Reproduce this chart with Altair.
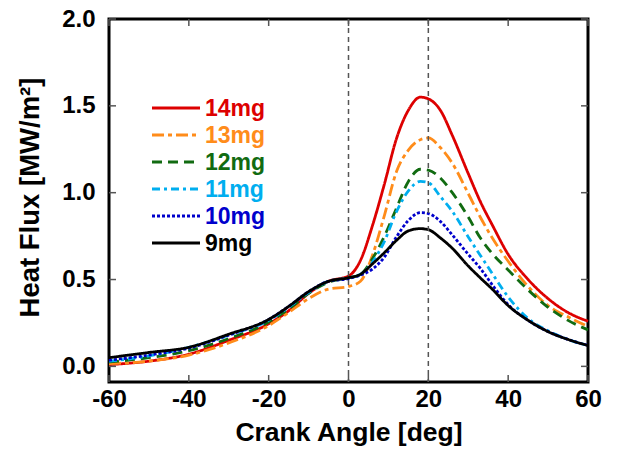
import altair as alt
import pandas as pd

angles = [-60, -50, -40, -30, -20, -15, -10, -5, 0, 3, 6, 9, 12, 15, 18, 20, 23, 26, 30, 33, 36, 40, 45, 50, 55, 60]

flux_14 = [0.01, 0.03, 0.07, 0.15, 0.245, 0.32, 0.42, 0.49, 0.52, 0.61, 0.81, 1.05, 1.31, 1.475, 1.55, 1.54, 1.475, 1.33, 1.11, 0.95, 0.815, 0.645, 0.50, 0.39, 0.31, 0.26]
flux_13 = [0.015, 0.03, 0.065, 0.135, 0.235, 0.31, 0.39, 0.445, 0.46, 0.49, 0.64, 0.87, 1.12, 1.245, 1.305, 1.315, 1.26, 1.17, 0.995, 0.86, 0.74, 0.605, 0.46, 0.35, 0.285, 0.23]
flux_12 = [0.025, 0.05, 0.09, 0.16, 0.255, 0.33, 0.42, 0.485, 0.51, 0.53, 0.62, 0.75, 0.91, 1.065, 1.135, 1.13, 1.085, 1.0, 0.86, 0.74, 0.65, 0.555, 0.44, 0.34, 0.265, 0.21]
flux_11 = [0.03, 0.06, 0.11, 0.18, 0.265, 0.34, 0.425, 0.49, 0.51, 0.53, 0.60, 0.72, 0.89, 1.01, 1.065, 1.058, 0.978, 0.893, 0.745, 0.64, 0.535, 0.40, 0.275, 0.205, 0.155, 0.12]
flux_10 = [0.035, 0.065, 0.105, 0.18, 0.27, 0.345, 0.43, 0.49, 0.505, 0.525, 0.56, 0.63, 0.745, 0.84, 0.885, 0.88, 0.835, 0.757, 0.645, 0.565, 0.47, 0.355, 0.265, 0.2, 0.155, 0.12]
flux_9 = [0.05, 0.08, 0.11, 0.185, 0.27, 0.345, 0.43, 0.49, 0.51, 0.53, 0.59, 0.655, 0.725, 0.78, 0.793, 0.787, 0.74, 0.68, 0.578, 0.51, 0.445, 0.35, 0.265, 0.2, 0.155, 0.12]

series = ["14mg", "13mg", "12mg", "11mg", "10mg", "9mg"]
values = [flux_14, flux_13, flux_12, flux_11, flux_10, flux_9]
colors = ["#dd0000", "#ff8c1a", "#116b11", "#00aeef", "#0000cc", "#000000"]
dashes = [[1, 0], [12, 4, 4, 4], [10, 6], [8, 4, 3, 4], [3, 2], [1, 0]]

x_ticks = [-60, -40, -20, 0, 20, 40, 60]
y_ticks = [0.0, 0.5, 1.0, 1.5, 2.0]
ref_angles = [0, 20]

rows = []
for name, vals in zip(series, values):
    for a, v in zip(angles, vals):
        rows.append({"angle": a, "flux": v, "series": name})
df = pd.DataFrame(rows)

FONT = "Liberation Sans"
W, H = 479, 363
TL = 7
TICKCOL = "#555555"
xscale = alt.Scale(domain=[-60, 60], nice=False, zero=False)
yscale = alt.Scale(domain=[-0.09, 2.0], nice=False, zero=False)

lines = alt.Chart(df).mark_line(strokeWidth=2.8, interpolate="monotone").encode(
    x=alt.X("angle:Q", scale=xscale,
            axis=alt.Axis(values=x_ticks, orient="bottom", title="Crank Angle [deg]",
                          labelExpr="'' + datum.value",
                          domain=False, grid=False, ticks=False, labelPadding=5,
                          labelFont=FONT, labelFontSize=24, labelFontWeight="bold",
                          labelColor="#000000", titleFont=FONT, titleFontSize=26.5,
                          titleFontWeight="bold", titleColor="#000000",
                          titleY=50, titleBaseline="middle", labelFlush=False)),
    y=alt.Y("flux:Q", scale=yscale,
            axis=alt.Axis(values=y_ticks, orient="left", format=".1f", title="Heat Flux [MW/m²]",
                          domain=False, grid=False, ticks=False, labelPadding=14,
                          labelFont=FONT, labelFontSize=24, labelFontWeight="bold",
                          labelColor="#000000", titleFont=FONT, titleFontSize=27.5,
                          titleFontWeight="bold", titleColor="#000000",
                          titleX=-79, titleY=178, titleAngle=-90, titleBaseline="middle",
                          titleAlign="center", labelFlush=False)),
    color=alt.Color("series:N", scale=alt.Scale(domain=series, range=colors), legend=None),
    strokeDash=alt.StrokeDash("series:N", scale=alt.Scale(domain=series, range=dashes), legend=None),
    order=alt.Order("series:N"),
)

xt = pd.DataFrame({"v": x_ticks})
yt = pd.DataFrame({"v": y_ticks})
tick_layers = [
    alt.Chart(xt).mark_rule(color=TICKCOL, strokeWidth=1.5).encode(
        x=alt.X("v:Q", scale=xscale), y=alt.value(H - TL), y2=alt.value(H)),
    alt.Chart(xt).mark_rule(color=TICKCOL, strokeWidth=1.5).encode(
        x=alt.X("v:Q", scale=xscale), y=alt.value(0), y2=alt.value(TL)),
    alt.Chart(yt).mark_rule(color=TICKCOL, strokeWidth=1.5).encode(
        y=alt.Y("v:Q", scale=yscale), x=alt.value(0), x2=alt.value(TL)),
    alt.Chart(yt).mark_rule(color=TICKCOL, strokeWidth=1.5).encode(
        y=alt.Y("v:Q", scale=yscale), x=alt.value(W - TL), x2=alt.value(W)),
]

vrules = alt.Chart(pd.DataFrame({"angle": ref_angles})).mark_rule(
    color="#555555", strokeWidth=1.5, strokeDash=[5, 4]
).encode(x=alt.X("angle:Q", scale=xscale))

legend_layers = []
for i, (name, col, dsh) in enumerate(zip(series, colors, dashes)):
    yy = 89 + 27 * i
    leg_line = alt.Chart(pd.DataFrame({"s": [name]})).mark_rule(
        color=col, strokeWidth=2.8, strokeDash=dsh
    ).encode(x=alt.value(43), x2=alt.value(91), y=alt.value(yy))
    leg_text = alt.Chart(pd.DataFrame({"s": [name]})).mark_text(
        align="left", baseline="middle", font=FONT, fontSize=23, fontWeight="bold", color=col
    ).encode(x=alt.value(96), y=alt.value(yy + 1), text="s:N")
    legend_layers += [leg_line, leg_text]

chart = alt.layer(lines, *tick_layers, vrules, *legend_layers).properties(
    width=W, height=H,
    autosize=alt.AutoSizeParams(type="none"),
    padding={"left": 109, "top": 19, "right": 30, "bottom": 68},
    background="white",
).configure_view(stroke="#000000", strokeWidth=3)

chart.save("out.html", embed_options={"renderer": "svg", "actions": False})
